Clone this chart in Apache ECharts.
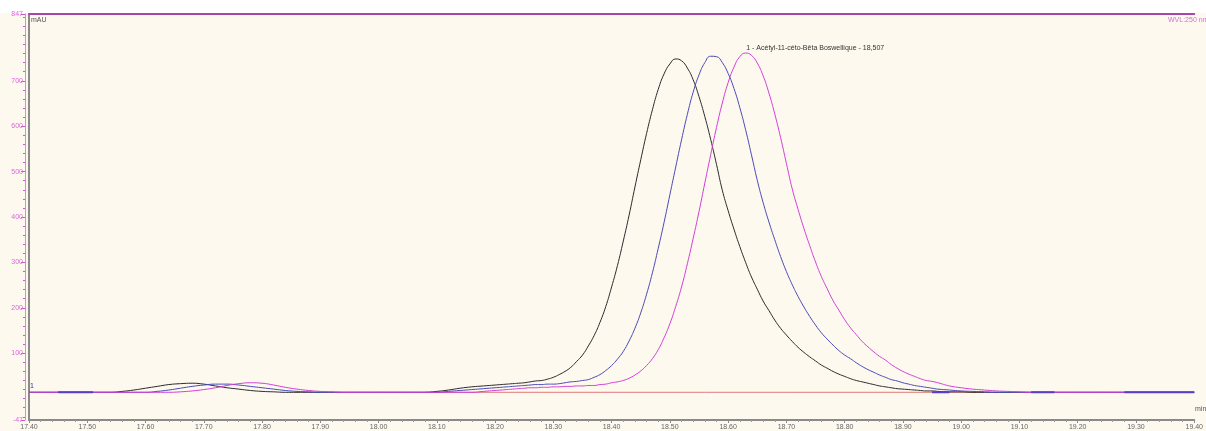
<!DOCTYPE html>
<html>
<head>
<meta charset="utf-8">
<style>
  html, body { margin: 0; padding: 0; background: #fdf9ef; }
  #chart { width: 1206px; height: 431px; }
</style>
<script src="https://cdn.jsdelivr.net/npm/echarts@6/dist/echarts.min.js"></script>
</head>
<body>
<div id="chart"></div>
<script>
'use strict';

// retention times (min)
var times = [
    17.40, 17.42, 17.44, 17.46, 17.48, 17.50, 17.52, 17.54, 17.56, 17.58,
    17.60, 17.62, 17.64, 17.66, 17.68, 17.70, 17.72, 17.74, 17.76, 17.78,
    17.80, 17.82, 17.84, 17.86, 17.88, 17.90, 17.92, 17.94, 17.96, 17.98,
    18.00, 18.02, 18.04, 18.06, 18.08, 18.10, 18.12, 18.14, 18.16, 18.18, 18.20,
    18.21, 18.22, 18.23, 18.24, 18.25, 18.26, 18.27, 18.28, 18.29, 18.30,
    18.31, 18.32, 18.33, 18.34, 18.35, 18.36, 18.37, 18.38, 18.39, 18.40,
    18.41, 18.42, 18.43, 18.44, 18.45, 18.46, 18.47, 18.48, 18.49, 18.50,
    18.51, 18.52, 18.53, 18.54, 18.55, 18.56, 18.57, 18.58, 18.59, 18.60,
    18.61, 18.62, 18.63, 18.64, 18.65, 18.66, 18.67, 18.68, 18.69, 18.70,
    18.71, 18.72, 18.73, 18.74, 18.75, 18.76, 18.77, 18.78, 18.79, 18.80,
    18.81, 18.82, 18.83, 18.84, 18.85, 18.86, 18.87, 18.88, 18.89, 18.90,
    18.91, 18.92, 18.93, 18.94, 18.95, 18.96,
    18.98, 19.00, 19.02, 19.04, 19.06, 19.08, 19.10, 19.12, 19.14, 19.16,
    19.18, 19.20, 19.22, 19.24, 19.26, 19.28, 19.30, 19.32, 19.34, 19.36, 19.38, 19.40
];

// mAU, black trace
var blackVals = [
    14, 14, 14, 14, 14, 14, 14, 14, 16, 19,
    23, 27, 31, 33, 34, 32, 28, 24, 21, 18,
    16, 15, 14, 14, 14, 14, 14, 14, 14, 14,
    14, 14, 14, 14, 14, 16, 19, 23, 26, 28, 30,
    31, 32, 33, 34, 35, 37, 39, 40, 43, 47,
    53, 60, 69, 82, 96, 116, 139, 168, 203, 246,
    293, 347, 404, 466, 526, 584, 636, 681, 715, 737,
    748, 744, 728, 702, 665, 621, 571, 516, 459, 414,
    373, 335, 300, 268, 241, 215, 194, 173, 155, 140,
    126, 113, 102, 92, 83, 74, 67, 60, 54, 49,
    44, 40, 37, 34, 31, 28, 26, 24, 22, 21,
    20, 19, 18, 17, 17, 16,
    15, 15, 14, 14, 14, 14, 14, 14, 14, 14,
    14, 14, 14, 14, 14, 14, 14, 14, 14, 14, 14, 14
];

// mAU, blue trace
var blueVals = [
    14, 14, 14, 14, 14, 14, 14, 14, 14, 14,
    14, 16, 19, 23, 27, 30, 32, 32, 30, 27,
    24, 21, 18, 16, 15, 14, 14, 14, 14, 14,
    14, 14, 14, 14, 14, 14, 16, 18, 20, 22, 24,
    25, 26, 27, 28, 29, 30, 31, 31, 32, 32,
    33, 35, 37, 38, 40, 42, 47, 53, 62, 73,
    87, 104, 127, 155, 189, 230, 277, 331, 388, 449,
    510, 570, 626, 675, 713, 740, 754, 753, 740, 716,
    683, 641, 592, 537, 481, 432, 389, 350, 313, 280,
    251, 225, 202, 181, 162, 145, 131, 118, 106, 96,
    88, 79, 71, 64, 58, 52, 47, 42, 39, 35,
    32, 29, 27, 25, 23, 21,
    19, 17, 16, 15, 14, 14, 14, 14, 14, 14,
    14, 14, 14, 14, 14, 14, 14, 14, 14, 14, 14, 14
];

// mAU, magenta trace
var pinkVals = [
    14, 14, 14, 14, 14, 14, 14, 14, 14, 14,
    14, 14, 14, 15, 17, 20, 24, 29, 33, 35,
    34, 30, 25, 21, 18, 16, 15, 14, 14, 14,
    14, 14, 14, 14, 14, 14, 14, 14, 14, 16, 18,
    19, 20, 21, 22, 23, 24, 24, 25, 25, 26,
    26, 27, 27, 28, 28, 29, 29, 31, 32, 35,
    37, 40, 45, 52, 61, 73, 88, 108, 134, 165,
    203, 246, 297, 353, 412, 475, 537, 597, 651, 696,
    730, 753, 761, 756, 739, 711, 673, 627, 575, 518,
    462, 417, 375, 337, 301, 269, 242, 216, 195, 174,
    156, 141, 126, 114, 103, 93, 85, 75, 67, 60,
    54, 49, 44, 40, 38, 35,
    28, 24, 21, 19, 17, 16, 15, 14, 14, 14,
    14, 14, 14, 14, 14, 14, 14, 14, 14, 14, 14, 14
];

// integration baseline (red) and short overlaid trace pieces
var baselineLevel = 14;
var baselineRange = [18.08, 19.04];
var segStarts = [17.45, 18.95, 19.12, 19.28, 19.33];
var segEnds = [17.51, 18.98, 19.16, 19.33, 19.40];

var yLabelTicks = [-47, 100, 200, 300, 400, 500, 600, 700, 847];
var yMinorTicks = [];
for (var v = -40; v <= 840; v += 20) yMinorTicks.push(v);

var peakName = '1 - Acétyl-11-céto-Bêta Boswellique - 18,507';
var peakAt = [18.631, 761];

function pairs(vals) {
    return times.map(function(t, i) { return [t, vals[i]]; });
}

var segData = [];
segStarts.forEach(function(s, i) {
    segData.push([s, baselineLevel], [segEnds[i], baselineLevel], [segEnds[i], null]);
});

var FONT = '"Liberation Sans", Arial, sans-serif';
var PINK = '#d24fd8';

var myChart = echarts.init(document.getElementById('chart'));
myChart.setOption({
    backgroundColor: '#fdf9ef',
    animation: false,
    grid: { left: 29, right: 0, top: 14, bottom: 9 },
    xAxis: [{
        type: 'value',
        min: 17.4,
        max: 19.4,
        interval: 0.1,
        axisLine: { onZero: false, lineStyle: { color: '#8a8a8a', width: 2 } },
        axisTick: { length: 3, lineStyle: { color: '#8a8a8a' } },
        minorTick: { show: true, splitNumber: 5, length: 2, lineStyle: { color: '#9a9a9a' } },
        splitLine: { show: false },
        axisLabel: {
            margin: 4,
            fontSize: 7,
            color: '#666',
            fontFamily: FONT,
            formatter: function(val) { return val.toFixed(2); }
        }
    }, {
        type: 'value',
        position: 'top',
        min: 17.4,
        max: 19.4,
        axisLine: { onZero: false, lineStyle: { color: '#a845a8', width: 2 } },
        axisTick: { show: false },
        axisLabel: { show: false },
        splitLine: { show: false }
    }],
    yAxis: [{
        type: 'value',
        position: 'left',
        min: -47,
        max: 847,
        offset: 4,
        axisLine: { show: true, onZero: false, lineStyle: { color: '#dd88dd', width: 1 } },
        axisTick: { length: 4, customValues: yLabelTicks, lineStyle: { color: PINK } },
        axisLabel: {
            customValues: yLabelTicks,
            margin: 2,
            fontSize: 7,
            color: '#dd66dd',
            fontFamily: FONT
        },
        splitLine: { show: false }
    }, {
        type: 'value',
        position: 'left',
        min: -47,
        max: 847,
        offset: 4,
        axisLine: { show: false, onZero: false },
        axisTick: { length: 2, customValues: yMinorTicks, lineStyle: { color: PINK } },
        axisLabel: { show: false },
        splitLine: { show: false }
    }, {
        type: 'value',
        position: 'left',
        min: -47,
        max: 847,
        offset: 0,
        axisLine: { show: true, onZero: false, lineStyle: { color: '#8a8a8a', width: 2 } },
        axisTick: { show: false },
        axisLabel: { show: false },
        splitLine: { show: false }
    }],
    series: [{
        name: 'baseline',
        type: 'line',
        data: [[baselineRange[0], baselineLevel], [baselineRange[1], baselineLevel]],
        showSymbol: false,
        lineStyle: { color: '#e07a7a', width: 1 },
        z: 1
    }, {
        name: 'black',
        type: 'line',
        data: pairs(blackVals),
        smooth: true,
        showSymbol: false,
        lineStyle: { color: '#2b2b2b', width: 1 }
    }, {
        name: 'blue',
        type: 'line',
        data: pairs(blueVals),
        smooth: true,
        showSymbol: false,
        lineStyle: { color: '#4a4ab8', width: 1 }
    }, {
        name: 'pink',
        type: 'line',
        data: pairs(pinkVals),
        smooth: true,
        showSymbol: false,
        lineStyle: { color: '#d23ed8', width: 1 },
        markPoint: {
            symbol: 'circle',
            symbolSize: 0,
            data: [{ coord: peakAt }],
            label: {
                show: true,
                position: 'right',
                distance: 0,
                offset: [0, -5],
                formatter: peakName,
                fontSize: 7,
                color: '#333',
                fontFamily: FONT
            }
        }
    }, {
        name: 'segments',
        type: 'line',
        data: segData,
        showSymbol: false,
        connectNulls: false,
        lineStyle: { color: '#5a3cc8', width: 2 },
        z: 3
    }],
    graphic: [
        { type: 'rect', left: 0, top: 0, shape: { width: 1206, height: 13 }, style: { fill: '#ffffff' }, silent: true },
        { type: 'text', left: 31, top: 17, style: { text: 'mAU', fontSize: 7, fill: '#555', fontFamily: FONT } },
        { type: 'text', left: 1168, top: 17, style: { text: 'WVL:250 nm', fontSize: 7, fill: '#d070d8', fontFamily: FONT } },
        { type: 'text', left: 1195, top: 406, style: { text: 'min', fontSize: 7, fill: '#555', fontFamily: FONT } },
        { type: 'text', left: 30, top: 383, style: { text: '1', fontSize: 7, fill: '#3030a0', fontFamily: FONT } }
    ]
});
</script>
</body>
</html>
